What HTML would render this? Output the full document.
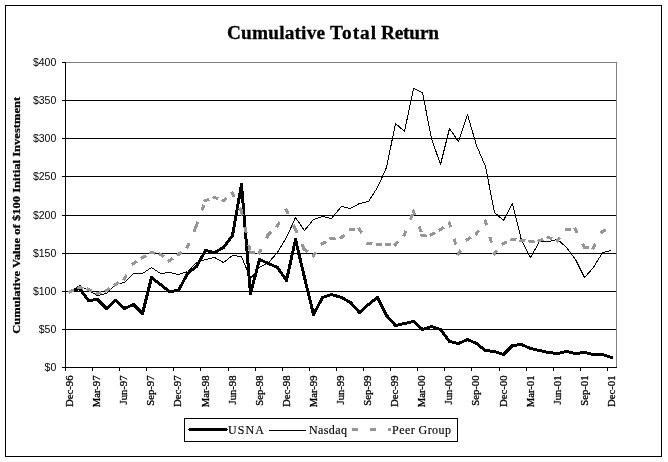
<!DOCTYPE html>
<html><head><meta charset="utf-8"><title>Cumulative Total Return</title>
<style>html,body{margin:0;padding:0;background:#fff;overflow:hidden;}svg{display:block;}</style>
</head><body>
<svg width="668" height="462" viewBox="0 0 668 462">
<rect width="668" height="462" fill="#fff"/>
<rect x="5.5" y="5.5" width="656" height="451" fill="none" stroke="#000" shape-rendering="crispEdges"/>
<g font-family="'Liberation Serif', 'Times New Roman', serif" font-weight="bold" font-size="19.3" stroke="#000" stroke-width="0.3">
<text x="227" y="39" textLength="98" lengthAdjust="spacing">Cumulative</text>
<text x="330" y="39" textLength="46" lengthAdjust="spacing">Total</text>
<text x="381" y="39" textLength="58" lengthAdjust="spacing">Return</text>
</g>
<text transform="translate(19.7,215.3) rotate(-90) scale(1,0.85)" text-anchor="middle" textLength="237" lengthAdjust="spacing" font-family="'Liberation Serif', 'Times New Roman', serif" font-weight="bold" font-size="12.5" stroke="#000" stroke-width="0.3">Cumulative Value of $100 Initial Investment</text>
<g shape-rendering="crispEdges" stroke="#000">
<line x1="65" y1="329.5" x2="616" y2="329.5"/>
<line x1="65" y1="291.5" x2="616" y2="291.5"/>
<line x1="65" y1="253.5" x2="616" y2="253.5"/>
<line x1="65" y1="215.5" x2="616" y2="215.5"/>
<line x1="65" y1="176.5" x2="616" y2="176.5"/>
<line x1="65" y1="138.5" x2="616" y2="138.5"/>
<line x1="65" y1="100.5" x2="616" y2="100.5"/>
<path d="M65 62.5H616.5V367" fill="none" stroke="#808080"/>
<line x1="65.5" y1="62" x2="65.5" y2="368"/>
<line x1="65" y1="367.5" x2="617" y2="367.5"/>
<line x1="62" y1="367.5" x2="65" y2="367.5"/>
<line x1="62" y1="329.5" x2="65" y2="329.5"/>
<line x1="62" y1="291.5" x2="65" y2="291.5"/>
<line x1="62" y1="253.5" x2="65" y2="253.5"/>
<line x1="62" y1="215.5" x2="65" y2="215.5"/>
<line x1="62" y1="176.5" x2="65" y2="176.5"/>
<line x1="62" y1="138.5" x2="65" y2="138.5"/>
<line x1="62" y1="100.5" x2="65" y2="100.5"/>
<line x1="62" y1="62.5" x2="65" y2="62.5"/>
<line x1="65.5" y1="368" x2="65.5" y2="371"/>
<line x1="92.5" y1="368" x2="92.5" y2="371"/>
<line x1="119.5" y1="368" x2="119.5" y2="371"/>
<line x1="146.5" y1="368" x2="146.5" y2="371"/>
<line x1="173.5" y1="368" x2="173.5" y2="371"/>
<line x1="200.5" y1="368" x2="200.5" y2="371"/>
<line x1="228.5" y1="368" x2="228.5" y2="371"/>
<line x1="255.5" y1="368" x2="255.5" y2="371"/>
<line x1="282.5" y1="368" x2="282.5" y2="371"/>
<line x1="309.5" y1="368" x2="309.5" y2="371"/>
<line x1="336.5" y1="368" x2="336.5" y2="371"/>
<line x1="363.5" y1="368" x2="363.5" y2="371"/>
<line x1="390.5" y1="368" x2="390.5" y2="371"/>
<line x1="417.5" y1="368" x2="417.5" y2="371"/>
<line x1="444.5" y1="368" x2="444.5" y2="371"/>
<line x1="471.5" y1="368" x2="471.5" y2="371"/>
<line x1="499.5" y1="368" x2="499.5" y2="371"/>
<line x1="526.5" y1="368" x2="526.5" y2="371"/>
<line x1="553.5" y1="368" x2="553.5" y2="371"/>
<line x1="580.5" y1="368" x2="580.5" y2="371"/>
<line x1="607.5" y1="368" x2="607.5" y2="371"/>
</g>
<g font-family="'Liberation Sans', Arial, sans-serif" font-size="10.5" text-anchor="end">
<text x="56.3" y="371" textLength="11.7" lengthAdjust="spacing">$0</text>
<text x="56.3" y="333" textLength="17.55" lengthAdjust="spacing">$50</text>
<text x="56.3" y="295" textLength="23.4" lengthAdjust="spacing">$100</text>
<text x="56.3" y="257" textLength="23.4" lengthAdjust="spacing">$150</text>
<text x="56.3" y="219" textLength="23.4" lengthAdjust="spacing">$200</text>
<text x="56.3" y="180" textLength="23.4" lengthAdjust="spacing">$250</text>
<text x="56.3" y="142" textLength="23.4" lengthAdjust="spacing">$300</text>
<text x="56.3" y="104" textLength="23.4" lengthAdjust="spacing">$350</text>
<text x="56.3" y="66" textLength="23.4" lengthAdjust="spacing">$400</text>
</g>
<g font-family="'Liberation Serif', 'Times New Roman', serif" font-size="10.67" text-anchor="end" stroke="#000" stroke-width="0.3">
<text transform="translate(73.02,375.5) rotate(-90)">Dec-96</text>
<text transform="translate(100.11,375.5) rotate(-90)">Mar-97</text>
<text transform="translate(127.21,375.5) rotate(-90)">Jun-97</text>
<text transform="translate(154.31,375.5) rotate(-90)">Sep-97</text>
<text transform="translate(181.41,375.5) rotate(-90)">Dec-97</text>
<text transform="translate(208.51,375.5) rotate(-90)">Mar-98</text>
<text transform="translate(235.61,375.5) rotate(-90)">Jun-98</text>
<text transform="translate(262.7,375.5) rotate(-90)">Sep-98</text>
<text transform="translate(289.8,375.5) rotate(-90)">Dec-98</text>
<text transform="translate(316.9,375.5) rotate(-90)">Mar-99</text>
<text transform="translate(344,375.5) rotate(-90)">Jun-99</text>
<text transform="translate(371.1,375.5) rotate(-90)">Sep-99</text>
<text transform="translate(398.2,375.5) rotate(-90)">Dec-99</text>
<text transform="translate(425.3,375.5) rotate(-90)">Mar-00</text>
<text transform="translate(452.39,375.5) rotate(-90)">Jun-00</text>
<text transform="translate(479.49,375.5) rotate(-90)">Sep-00</text>
<text transform="translate(506.59,375.5) rotate(-90)">Dec-00</text>
<text transform="translate(533.69,375.5) rotate(-90)">Mar-01</text>
<text transform="translate(560.79,375.5) rotate(-90)">Jun-01</text>
<text transform="translate(587.89,375.5) rotate(-90)">Sep-01</text>
<text transform="translate(614.98,375.5) rotate(-90)">Dec-01</text>
</g>
<g fill="none" shape-rendering="crispEdges">
<g stroke="#000" stroke-width="3" stroke-linecap="round"><line x1="70.5" y1="291.5" x2="79.5" y2="288.5"/><line x1="79.5" y1="288.5" x2="88.5" y2="300.5"/><line x1="88.5" y1="300.5" x2="97.5" y2="299.5"/><line x1="97.5" y1="299.5" x2="106.5" y2="308.5"/><line x1="106.5" y1="308.5" x2="115.5" y2="300.5"/><line x1="115.5" y1="300.5" x2="124.5" y2="308.5"/><line x1="124.5" y1="308.5" x2="133.5" y2="304.5"/><line x1="133.5" y1="304.5" x2="142.5" y2="313.5"/><line x1="142.5" y1="313.5" x2="151.5" y2="277.5"/><line x1="151.5" y1="277.5" x2="160.5" y2="284.5"/><line x1="160.5" y1="284.5" x2="169.5" y2="291.5"/><line x1="169.5" y1="291.5" x2="178.5" y2="290.5"/><line x1="178.5" y1="290.5" x2="187.5" y2="273.5"/><line x1="187.5" y1="273.5" x2="196.5" y2="266.5"/><line x1="196.5" y1="266.5" x2="205.5" y2="250.5"/><line x1="205.5" y1="250.5" x2="214.5" y2="252.5"/><line x1="214.5" y1="252.5" x2="223.5" y2="247.5"/><line x1="223.5" y1="247.5" x2="232.5" y2="235.5"/><line x1="232.5" y1="235.5" x2="241.5" y2="184.5"/><line x1="241.5" y1="184.5" x2="250.5" y2="293.5"/><line x1="250.5" y1="293.5" x2="259.5" y2="259.5"/><line x1="259.5" y1="259.5" x2="268.5" y2="263.5"/><line x1="268.5" y1="263.5" x2="277.5" y2="267.5"/><line x1="277.5" y1="267.5" x2="286.5" y2="280.5"/><line x1="286.5" y1="280.5" x2="295.5" y2="239.5"/><line x1="295.5" y1="239.5" x2="304.5" y2="277.5"/><line x1="304.5" y1="277.5" x2="313.5" y2="314.5"/><line x1="313.5" y1="314.5" x2="322.5" y2="297.5"/><line x1="322.5" y1="297.5" x2="331.5" y2="294.5"/><line x1="331.5" y1="294.5" x2="341.5" y2="297.5"/><line x1="341.5" y1="297.5" x2="350.5" y2="302.5"/><line x1="350.5" y1="302.5" x2="359.5" y2="312.5"/><line x1="359.5" y1="312.5" x2="368.5" y2="304.5"/><line x1="368.5" y1="304.5" x2="377.5" y2="297.5"/><line x1="377.5" y1="297.5" x2="386.5" y2="315.5"/><line x1="386.5" y1="315.5" x2="395.5" y2="325.5"/><line x1="395.5" y1="325.5" x2="404.5" y2="323.5"/><line x1="404.5" y1="323.5" x2="413.5" y2="321.5"/><line x1="413.5" y1="321.5" x2="422.5" y2="329.5"/><line x1="422.5" y1="329.5" x2="431.5" y2="326.5"/><line x1="431.5" y1="326.5" x2="440.5" y2="329.5"/><line x1="440.5" y1="329.5" x2="449.5" y2="341.5"/><line x1="449.5" y1="341.5" x2="458.5" y2="343.5"/><line x1="458.5" y1="343.5" x2="467.5" y2="339.5"/><line x1="467.5" y1="339.5" x2="476.5" y2="343.5"/><line x1="476.5" y1="343.5" x2="485.5" y2="350.5"/><line x1="485.5" y1="350.5" x2="494.5" y2="351.5"/><line x1="494.5" y1="351.5" x2="503.5" y2="354.5"/><line x1="503.5" y1="354.5" x2="512.5" y2="345.5"/><line x1="512.5" y1="345.5" x2="521.5" y2="344.5"/><line x1="521.5" y1="344.5" x2="530.5" y2="348.5"/><line x1="530.5" y1="348.5" x2="539.5" y2="350.5"/><line x1="539.5" y1="350.5" x2="548.5" y2="352.5"/><line x1="548.5" y1="352.5" x2="557.5" y2="353.5"/><line x1="557.5" y1="353.5" x2="566.5" y2="351.5"/><line x1="566.5" y1="351.5" x2="575.5" y2="353.5"/><line x1="575.5" y1="353.5" x2="584.5" y2="352.5"/><line x1="584.5" y1="352.5" x2="593.5" y2="354.5"/><line x1="593.5" y1="354.5" x2="602.5" y2="354.5"/><line x1="602.5" y1="354.5" x2="611.5" y2="357.5"/></g>
<polyline stroke="#000" stroke-width="1" stroke-linejoin="round" points="70.5,291.5 79.5,285.5 88.5,290.5 97.5,295.5 106.5,293.5 115.5,284.5 124.5,282.5 133.5,273.5 142.5,273.5 151.5,267.5 160.5,273.5 169.5,272.5 178.5,274.5 187.5,271.5 196.5,262.5 205.5,259.5 214.5,257.5 223.5,262.5 232.5,255.5 241.5,256.5 250.5,278.5 259.5,267.5 268.5,262.5 277.5,252.5 286.5,237.5 295.5,217.5 304.5,230.5 313.5,219.5 322.5,216.5 331.5,218.5 341.5,206.5 350.5,208.5 359.5,203.5 368.5,201.5 377.5,187.5 386.5,167.5 395.5,123.5 404.5,131.5 413.5,88.5 422.5,92.5 431.5,138.5 440.5,164.5 449.5,128.5 458.5,141.5 467.5,114.5 476.5,145.5 485.5,166.5 494.5,212.5 503.5,220.5 512.5,203.5 521.5,240.5 530.5,257.5 539.5,241.5 548.5,241.5 557.5,239.5 566.5,247.5 575.5,259.5 584.5,277.5 593.5,267.5 602.5,252.5 611.5,250.5"/>
<g stroke="#969696" stroke-width="3" stroke-dasharray="3 15" stroke-linecap="square"><line x1="70.04" y1="291.7" x2="79.5" y2="287.5"/><line x1="79.01" y1="287.39" x2="88.5" y2="289.5"/><line x1="88.04" y1="289.3" x2="97.5" y2="293.5"/><line x1="97.03" y1="293.66" x2="106.5" y2="290.5"/><line x1="106.08" y1="290.78" x2="115.5" y2="284.5"/><line x1="115.08" y1="284.78" x2="124.5" y2="278.5"/><line x1="124.24" y1="278.93" x2="133.5" y2="263.5"/><line x1="133.08" y1="263.78" x2="142.5" y2="257.5"/><line x1="142.06" y1="257.74" x2="151.5" y2="252.5"/><line x1="151.01" y1="252.39" x2="160.5" y2="254.5"/><line x1="160.08" y1="254.22" x2="169.5" y2="260.5"/><line x1="169.08" y1="260.78" x2="178.5" y2="254.5"/><line x1="178.13" y1="254.83" x2="187.5" y2="246.5"/><line x1="187.3" y1="246.96" x2="196.5" y2="225.5"/><line x1="196.33" y1="225.97" x2="205.5" y2="200.5"/><line x1="205.03" y1="200.66" x2="214.5" y2="197.5"/><line x1="214.03" y1="197.34" x2="223.5" y2="200.5"/><line x1="223.11" y1="200.81" x2="232.5" y2="193.5"/><line x1="232.28" y1="193.05" x2="241.5" y2="211.5"/><line x1="241.39" y1="211.01" x2="250.5" y2="252.5"/><line x1="250" y1="252.5" x2="259.5" y2="252.5"/><line x1="259.28" y1="252.95" x2="268.5" y2="234.5"/><line x1="268.15" y1="234.85" x2="277.5" y2="225.5"/><line x1="277.24" y1="225.93" x2="286.5" y2="210.5"/><line x1="286.29" y1="210.05" x2="295.5" y2="229.5"/><line x1="295.29" y1="229.04" x2="304.5" y2="249.5"/><line x1="304.08" y1="249.22" x2="313.5" y2="255.5"/><line x1="313.2" y1="255.9" x2="322.5" y2="243.5"/><line x1="322.06" y1="243.74" x2="331.5" y2="238.5"/><line x1="331" y1="238.55" x2="341.5" y2="237.5"/><line x1="341.13" y1="237.83" x2="350.5" y2="229.5"/><line x1="350" y1="229.5" x2="359.5" y2="229.5"/><line x1="359.23" y1="229.08" x2="368.5" y2="243.5"/><line x1="368" y1="243.44" x2="377.5" y2="244.5"/><line x1="377" y1="244.5" x2="386.5" y2="244.5"/><line x1="386" y1="244.5" x2="395.5" y2="244.5"/><line x1="395.17" y1="244.87" x2="404.5" y2="234.5"/><line x1="404.32" y1="234.97" x2="413.5" y2="211.5"/><line x1="413.32" y1="211.03" x2="422.5" y2="235.5"/><line x1="422" y1="235.56" x2="431.5" y2="234.5"/><line x1="431.06" y1="234.74" x2="440.5" y2="229.5"/><line x1="440.08" y1="229.78" x2="449.5" y2="223.5"/><line x1="449.36" y1="223.02" x2="458.5" y2="253.5"/><line x1="458.23" y1="253.92" x2="467.5" y2="239.5"/><line x1="467.08" y1="239.78" x2="476.5" y2="233.5"/><line x1="476.2" y1="233.9" x2="485.5" y2="221.5"/><line x1="485.36" y1="221.02" x2="494.5" y2="253.5"/><line x1="494.17" y1="253.87" x2="503.5" y2="243.5"/><line x1="503.04" y1="243.7" x2="512.5" y2="239.5"/><line x1="512" y1="239.44" x2="521.5" y2="240.5"/><line x1="521" y1="240.44" x2="530.5" y2="241.5"/><line x1="530" y1="241.56" x2="539.5" y2="240.5"/><line x1="539.03" y1="240.66" x2="548.5" y2="237.5"/><line x1="548.03" y1="237.34" x2="557.5" y2="240.5"/><line x1="557.18" y1="240.89" x2="566.5" y2="229.5"/><line x1="566" y1="229.5" x2="575.5" y2="229.5"/><line x1="575.28" y1="229.05" x2="584.5" y2="247.5"/><line x1="584" y1="247.5" x2="593.5" y2="247.5"/><line x1="593.25" y1="247.94" x2="602.5" y2="231.5"/><line x1="602.04" y1="231.7" x2="611.5" y2="227.5"/></g>
</g>
<rect x="184.5" y="418.5" width="273" height="23" fill="#fff" stroke="#000" shape-rendering="crispEdges"/>
<path d="M189 428h38v3h-38zM188 429h1v1h-1zM227 429h1v1h-1z" fill="#000" shape-rendering="crispEdges"/>
<line x1="269" y1="430.5" x2="306" y2="430.5" stroke="#000" shape-rendering="crispEdges"/>
<g fill="#969696" shape-rendering="crispEdges"><rect x="352" y="428" width="6" height="3"/><rect x="370" y="428" width="6" height="3"/><rect x="388" y="428" width="3" height="3"/></g>
<g font-family="'Liberation Serif', 'Times New Roman', serif" font-size="12" lengthAdjust="spacing" stroke="#000" stroke-width="0.15">
<text x="228" y="434" textLength="36" lengthAdjust="spacing">USNA</text>
<text x="309" y="434" textLength="38" lengthAdjust="spacing">Nasdaq</text>
<text x="392" y="434" textLength="59" lengthAdjust="spacing">Peer Group</text>
</g>
</svg>
</body></html>
